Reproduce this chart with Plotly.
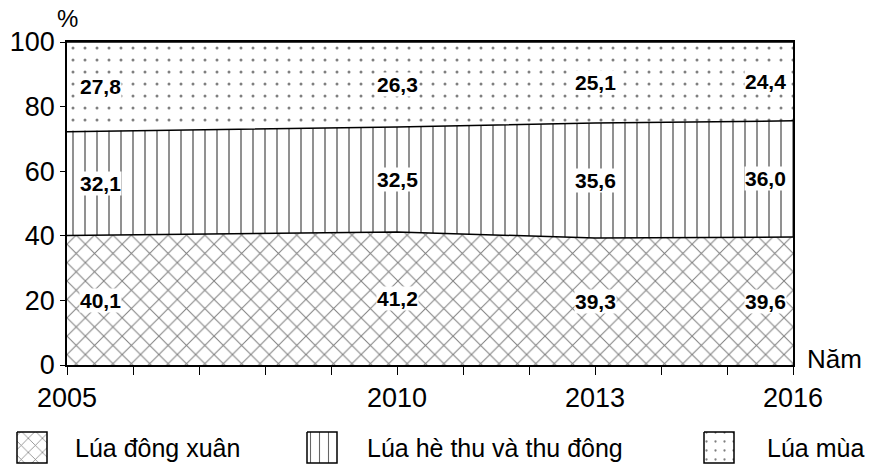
import plotly.graph_objects as go

years = [2005, 2010, 2013, 2016]
dong_xuan = [40.1, 41.2, 39.3, 39.6]
he_thu = [32.1, 32.5, 35.6, 36.0]
lua_mua = [27.8, 26.3, 25.1, 24.4]
names = ["Lúa đông xuân", "Lúa hè thu và thu đông", "Lúa mùa"]
tick_years = list(range(2005, 2017))
tick_labels = [str(y) if y in years else "" for y in tick_years]

FONT = "Liberation Sans, Arial, sans-serif"
W, H, TOP = 873, 470, 42
PH = H - TOP
fig = go.Figure()
series = [dong_xuan, he_thu, lua_mua]
patterns = [dict(shape="x", size=13, solidity=0.15),
            dict(shape="|", size=12, solidity=0.12, fgopacity=0.6),
            dict(shape=".", size=12, solidity=0.05)]
for s, n, p in zip(series, names, patterns):
    fig.add_trace(go.Scatter(
        x=years, y=s, name=n, stackgroup="one", mode="lines",
        line=dict(color="black", width=1.5),
        fillcolor="white",
        fillpattern=dict(fgcolor="black", bgcolor="white", **p),
        showlegend=False, hoverinfo="skip",
    ))

# value labels at band midpoints
shifts = {2005: 33, 2010: 0, 2013: 0, 2016: -28}
for i, yr in enumerate(years):
    base = 0
    for s in series:
        v = s[i]
        fig.add_annotation(x=yr, y=base + v / 2, text=f"<b>{v:.1f}</b>".replace(".", ","),
                           showarrow=False, xshift=shifts[yr],
                           font=dict(family=FONT, size=21, color="black"),
                           bgcolor="white", borderpad=0)
        base += v

fig.add_annotation(x=0, xref="x domain", xanchor="center", y=1.0, yref="y domain", yanchor="bottom",
                   yshift=8, text="%", showarrow=False,
                   font=dict(family=FONT, size=24, color="black"))
fig.add_annotation(x=1.0, xref="x domain", xanchor="left", y=0, yref="y domain", yanchor="middle",
                   xshift=12, yshift=6, text="Năm", showarrow=False,
                   font=dict(family=FONT, size=26, color="black"))

# manual legend (swatches drawn on a helper pixel axis)
leg_x = [17, 307, 704]
leg_text_x = [73, 365, 765]
sw, sy0, sy1 = 30, 432, 463
for i, (n, p) in enumerate(zip(names, patterns)):
    x0 = leg_x[i]
    pp = dict(p)
    pp["size"] = max(7, int(p["size"] * 0.8))
    fig.add_trace(go.Scatter(
        x=[x0, x0 + sw, x0 + sw, x0, x0], y=[sy0, sy0, sy1, sy1, sy0],
        xaxis="x3", yaxis="y3", mode="lines", fill="toself",
        line=dict(color="black", width=1.5), fillcolor="white",
        fillpattern=dict(fgcolor="black", bgcolor="white", **pp),
        showlegend=False, hoverinfo="skip",
    ))
    fig.add_annotation(x=leg_text_x[i], y=(sy0 + sy1) / 2, xref="x3", yref="y3",
                       xanchor="left", yanchor="middle", text=n, showarrow=False,
                       font=dict(family=FONT, size=25, color="black"))

fig.update_layout(
    width=W, height=H,
    margin=dict(l=0, r=0, t=TOP, b=0, autoexpand=False),
    plot_bgcolor="white", paper_bgcolor="white",
    showlegend=False,
    xaxis=dict(domain=[67 / W, 793 / W], range=[2005, 2016], tickvals=tick_years, ticktext=tick_labels,
               ticks="outside", ticklen=8, tickcolor="black", showline=True, linecolor="black",
               linewidth=1.5, mirror=True, showgrid=False, zeroline=False,
               tickfont=dict(family=FONT, size=27, color="black")),
    yaxis=dict(domain=[(H - 365) / PH, 1.0], range=[0, 100], tickvals=[0, 20, 40, 60, 80, 100],
               ticks="outside", ticklen=5, tickcolor="black", showline=True, linecolor="black",
               linewidth=1.5, mirror=True, showgrid=False, zeroline=False,
               tickfont=dict(family=FONT, size=27, color="black")),
    xaxis3=dict(domain=[0, 1], range=[0, W], visible=False, fixedrange=True),
    yaxis3=dict(domain=[0, 60 / PH], range=[H, H - 60], visible=False, fixedrange=True),
)
fig.write_html("out.html", config={"displayModeBar": False},
               post_script="document.body.style.margin='0';document.body.style.padding='0';")
